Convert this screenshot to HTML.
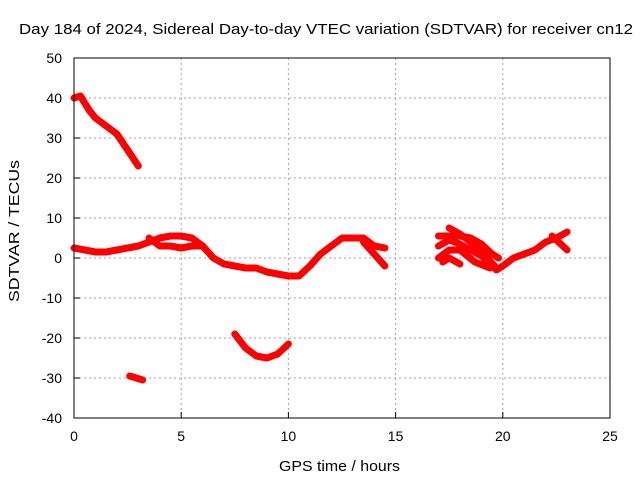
<!DOCTYPE html>
<html><head><meta charset="utf-8"><style>
body{margin:0;background:#fff}
svg{display:block;font-family:"Liberation Sans",sans-serif}
</style></head><body>
<svg width="640" height="480">
<rect width="640" height="480" fill="#fff"/>
<g id="grid"></g>
<g id="axes"></g>
<g id="series"></g>
<rect x="74" y="58" width="536" height="360" fill="none" stroke="#000" stroke-width="1"/>
<text x="19" y="34" font-size="15" textLength="614" lengthAdjust="spacingAndGlyphs">Day 184 of 2024, Sidereal Day-to-day VTEC variation (SDTVAR) for receiver cn12</text>
<text x="279" y="471" font-size="15" textLength="121" lengthAdjust="spacingAndGlyphs">GPS time / hours</text>
<text transform="translate(19,302) rotate(-90)" font-size="15" textLength="142" lengthAdjust="spacingAndGlyphs">SDTVAR / TECUs</text>
</svg>
<script>
const xTicks=[0,5,10,15,20,25];
const yTicks=[-40,-30,-20,-10,0,10,20,30,40,50];
const seg0=[[0,40],[0.3,40.5],[0.7,37],[1,35],[1.5,33],[2,31],[2.5,27],[3,23]];
const seg1=[[0,2.5],[0.5,2],[1,1.5],[1.5,1.5],[2,2],[2.5,2.5],[3,3],[3.5,4],[4,5],[4.5,5.5],[5,5.5],[5.5,5],[6,3],[6.5,0],[7,-1.5],[7.5,-2],[8,-2.5],[8.5,-2.5],[9,-3.5],[9.5,-4],[10,-4.5],[10.5,-4.5],[11,-2],[11.5,1],[12,3],[12.5,5],[13,5],[13.5,5],[14,3],[14.5,2.5]];
const seg2=[[3.5,5],[4,3],[4.5,3],[5,2.5],[5.5,3],[6,3]];
const seg3=[[13.5,4],[14,1],[14.5,-2]];
const seg4=[[7.5,-19],[8,-22.5],[8.5,-24.5],[9,-25],[9.5,-24],[10,-21.5]];
const seg5=[[2.6,-29.5],[3.2,-30.5]];
const seg6=[[17,5.5],[18,5.5],[18.5,5],[19,3.5],[19.5,1],[19.8,0]];
const seg7=[[17,3],[17.5,4.5],[18,3.5],[18.5,2],[19,0.5],[19.6,-2.5]];
const seg8=[[17,0],[17.5,2],[18,2],[18.7,-1],[19.4,-2.5]];
const seg9=[[17.5,7.5],[18,6],[18.5,4],[19,1.5],[19.7,-2.5]];
const seg10=[[17.2,-1],[17.5,0],[18,-1.5]];
const seg11=[[19.7,-3],[20,-2],[20.5,0],[21,1],[21.5,2],[22,4],[22.5,5],[23,6.5]];
const seg12=[[22.3,5.5],[23,2]];
const segments=[seg0,seg1,seg2,seg3,seg4,seg5,seg6,seg7,seg8,seg9,seg10,seg11,seg12];
const NS="http://www.w3.org/2000/svg";
const X=v=>74+v*(536/25), Y=v=>418-(v+40)*4;
const grid=document.getElementById('grid'),axes=document.getElementById('axes'),ser=document.getElementById('series');
function mk(tag,attrs,parent){const e=document.createElementNS(NS,tag);for(const k in attrs)e.setAttribute(k,attrs[k]);parent.appendChild(e);return e;}
xTicks.forEach(t=>{const x=X(t);
 if(t>0&&t<25){const g=mk('line',{x1:x,x2:x,y1:58,y2:418,stroke:'#a0a0a0','stroke-dasharray':'2,3'},grid);
 }
 const tk=mk('line',{x1:x,x2:x,y1:418,y2:412,stroke:'#000'},axes);
 
 const tx=mk('text',{x:x,y:441,'text-anchor':'middle','font-size':'14'},axes);tx.textContent=t;
 });
yTicks.forEach(t=>{const y=Y(t);
 if(t>-40&&t<50){const g=mk('line',{x1:74,x2:610,y1:y,y2:y,stroke:'#a0a0a0','stroke-dasharray':'2,3'},grid);
 }
 const tk=mk('line',{x1:74,x2:80,y1:y,y2:y,stroke:'#000'},axes);
 
 const tx=mk('text',{x:62,y:y+5,'text-anchor':'end','font-size':'14'},axes);tx.textContent=t;
 });
segments.forEach(s=>{
 const p=mk('polyline',{points:s.map(d=>X(d[0])+','+Y(d[1])).join(' '),fill:'none',stroke:'#f00','stroke-width':'7','stroke-linejoin':'round','stroke-linecap':'round'},ser);
 });
</script>
</body></html>
